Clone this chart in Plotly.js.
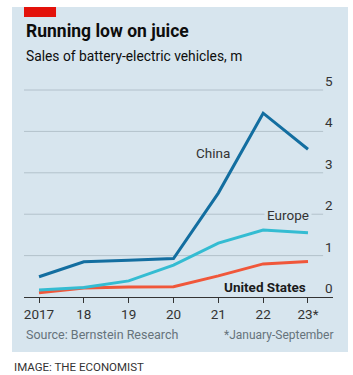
<!DOCTYPE html>
<html>
<head>
<meta charset="utf-8">
<script src="https://cdn.plot.ly/plotly-3.0.1.min.js"></script>
<style>html,body{margin:0;padding:0;background:#fff;}#chart{width:353px;height:375px;}</style>
</head>
<body>
<div id="chart"></div>
<script>
var years = [2017, 2018, 2019, 2020, 2021, 2022, 2023];
var xTickLabels = ["2017", "18", "19", "20", "21", "22", "23*"];
var yTickValues = [0, 1, 2, 3, 4, 5];
var yTickLabels = ["0", "1", "2", "3", "4", "5"];
var china = [0.49, 0.85, 0.89, 0.93, 2.51, 4.44, 3.57];
var europe = [0.17, 0.23, 0.39, 0.77, 1.30, 1.62, 1.55];
var unitedStates = [0.10, 0.22, 0.24, 0.25, 0.51, 0.80, 0.86];

var panel = "#d7e5ee";
var font = "Roboto, 'Noto Sans', sans-serif";

function line(y, color, name) {
  return {x: years, y: y, type: "scatter", mode: "lines", name: name,
    line: {color: color, width: 3}, hoverinfo: "skip", cliponaxis: false};
}
var traces = [
  line(unitedStates, "#f0573a", "United States"),
  line(europe, "#34bcd2", "Europe"),
  line(china, "#136ea0", "China")
];

var shapes = [
  {type: "rect", xref: "paper", yref: "paper", x0: -0.0388, x1: 1.0485, y0: -0.2535, y1: 1.336,
   fillcolor: panel, line: {width: 0}, layer: "below"},
  {type: "rect", xref: "paper", yref: "paper", x0: 0, x1: 0.1036, y0: 1.290, y1: 1.336,
   fillcolor: "#e3120b", line: {width: 0}, layer: "below"}
];
yTickValues.forEach(function (v) {
  if (v === 0) return;
  shapes.push({type: "line", xref: "paper", yref: "y", x0: 0, x1: 0.968, y0: v, y1: v,
    line: {color: "#b3c2cb", width: 1}, layer: "below"});
});

var annotations = [];
yTickValues.forEach(function (v, i) {
  annotations.push({xref: "paper", yref: "y", x: 1.0065, y: v, xanchor: "right", yanchor: "bottom",
    yshift: -1, text: yTickLabels[i], showarrow: false, font: {family: font, size: 13.5, color: "#333"}});
});
annotations.push(
  {xref: "paper", yref: "paper", x: 0, y: 1.226, xanchor: "left", yanchor: "middle",
   text: "<b>Running low on juice</b>", showarrow: false, font: {family: font, size: 17.5, color: "#0d0d0d"}},
  {xref: "paper", yref: "paper", x: 0, y: 1.1106, xanchor: "left", yanchor: "middle",
   text: "Sales of battery-electric vehicles, m", showarrow: false, font: {family: font, size: 13.8, color: "#0d0d0d"}},
  {xref: "x", yref: "y", x: 2020.88, y: 3.49, xanchor: "center", yanchor: "middle",
   text: "China", showarrow: false, font: {family: font, size: 13.5, color: "#333"}},
  {xref: "x", yref: "y", x: 2022.55, y: 1.98, xanchor: "center", yanchor: "middle",
   text: "Europe", showarrow: false, bgcolor: panel, borderpad: 2, font: {family: font, size: 13.5, color: "#333"}},
  {xref: "x", yref: "y", x: 2023, y: 0.25, xanchor: "right", yanchor: "middle",
   text: "<b>United States</b>", showarrow: false, font: {family: font, size: 13.5, color: "#1a1a1a"}},
  {xref: "paper", yref: "paper", x: 0, y: -0.175, xanchor: "left", yanchor: "middle",
   text: "Source: Bernstein Research", showarrow: false, font: {family: font, size: 12.5, color: "#66737b"}},
  {xref: "paper", yref: "paper", x: 1.0065, y: -0.175, xanchor: "right", yanchor: "middle",
   text: "*January-September", showarrow: false, font: {family: font, size: 12, color: "#66737b"}},
  {xref: "paper", yref: "paper", x: -0.0388, y: -0.3226, xanchor: "left", yanchor: "middle",
   text: "IMAGE: THE ECONOMIST", showarrow: false, font: {family: font, size: 11.5, color: "#333"}}
);

var layout = {
  width: 353, height: 375,
  margin: {l: 24, r: 20, t: 80, b: 78, pad: 0},
  paper_bgcolor: "#ffffff", plot_bgcolor: "rgba(0,0,0,0)",
  showlegend: false,
  xaxis: {range: [2016.665, 2023.558], tickvals: years, ticktext: xTickLabels, ticks: "outside",
    ticklen: 5, tickcolor: "#333", showline: true, linecolor: "#333", linewidth: 1,
    showgrid: false, zeroline: false, fixedrange: true,
    tickfont: {family: font, size: 13.5, color: "#333"}},
  yaxis: {range: [0, 5.242], showticklabels: false, showgrid: false, zeroline: false,
    showline: false, ticks: "", fixedrange: true},
  shapes: shapes,
  annotations: annotations
};

Plotly.newPlot("chart", traces, layout, {displayModeBar: false, staticPlot: true});
</script>
</body>
</html>
